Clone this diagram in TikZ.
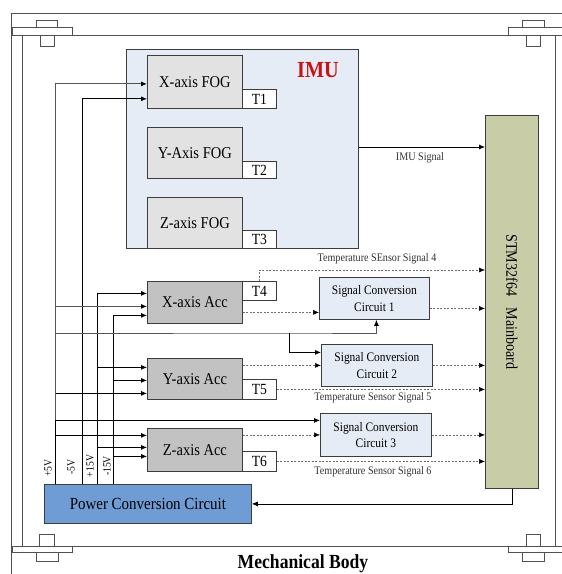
\documentclass[tikz,border=0pt]{standalone}
\usepackage{fontspec}
\setmainfont{Liberation Serif}[FakeStretch=0.88]
\usetikzlibrary{arrows.meta,calc}
\definecolor{framec}{RGB}{80,80,80}
\definecolor{boxc}{RGB}{60,60,60}
\definecolor{imubg}{RGB}{230,236,246}
\definecolor{fogc}{RGB}{226,226,226}
\definecolor{accc}{RGB}{194,194,194}
\definecolor{mainc}{RGB}{200,205,168}
\definecolor{powc}{RGB}{112,156,214}
\definecolor{imured}{RGB}{200,20,20}
\definecolor{pgray}{RGB}{85,85,85}
\definecolor{dgray}{RGB}{110,110,110}
\definecolor{lblc}{RGB}{50,50,50}
\begin{document}
\begin{tikzpicture}[x=1pt,y=-1pt,
  frame/.style={draw=framec, line width=0.8pt},
  box/.style={draw=boxc, line width=0.8pt, inner sep=0pt, anchor=north west, align=center},
  sens/.style={box, fill=fogc, font=\fontsize{16.5}{18}\selectfont},
  accbox/.style={box, fill=accc, font=\fontsize{16.5}{18}\selectfont},
  tbox/.style={box, fill=white, font=\fontsize{15.5}{16}\selectfont},
  sccbox/.style={box, fill=imubg, font=\fontsize{13}{16.5}\selectfont},
  arr/.style={-{Latex[length=6pt,width=5pt]}, line width=0.75pt, draw=black},
  pfive/.style={-{Latex[length=6pt,width=5pt,color=black]}, line width=0.9pt, draw=pgray},
  dsh/.style={-{Latex[length=6pt,width=5pt,color=black]}, draw=dgray, line width=0.5pt, dash pattern=on 2pt off 1.5pt},
  lbl/.style={font=\fontsize{11.5}{12}\selectfont, text=lblc, inner sep=0pt},
  vlab/.style={font=\fontsize{11}{12}\selectfont, rotate=90, inner sep=0pt}
]
\useasboundingbox (0,0) rectangle (562,574);
% mechanical body frame
\draw[frame] (11,580) -- (11,13) -- (566,13);
\draw[frame] (11,35) -- (566,35);
\draw[frame] (11,546) -- (566,546);
\draw[frame] (22.5,35) -- (22.5,546);
\draw[frame] (555.5,35) -- (555.5,546);
\draw[frame, fill=white] (12,27) rectangle (72,35);
\draw[frame, fill=white] (36,20) rectangle (57,27);
\draw[frame, fill=white] (40,35) rectangle (54,46);
\draw[frame, fill=white] (508,27) rectangle (566,35);
\draw[frame, fill=white] (522,20) rectangle (544,27);
\draw[frame, fill=white] (526,35) rectangle (540,46);
\draw[frame, fill=white] (12,546) rectangle (72,552);
\draw[frame, fill=white] (39,534) rectangle (54,546);
\draw[frame, fill=white] (36,552) rectangle (58,561);
\draw[frame, fill=white] (508,546) rectangle (566,552);
\draw[frame, fill=white] (526,534) rectangle (540,546);
\draw[frame, fill=white] (522,552) rectangle (544,561);
\node[font=\bfseries\fontsize{20}{20}\selectfont] (mb) at (303,564) {Mechanical Body};

% IMU
\node[box, fill=imubg, minimum width=232pt, minimum height=199pt] (imu) at (126,49) {};
\node[font=\bfseries\fontsize{23}{23}\selectfont, text=imured] (imutitle) at (318,70) {IMU};
\node[sens, minimum width=95pt, minimum height=53pt] (xfog) at (147,55) {X-axis FOG};
\node[tbox, minimum width=34pt, minimum height=19pt] (t1) at (242,89) {T1};
\node[sens, minimum width=95pt, minimum height=51pt] (yfog) at (147,127) {Y-Axis FOG};
\node[tbox, minimum width=34pt, minimum height=17pt] (t2) at (242,161) {T2};
\node[sens, minimum width=95pt, minimum height=51pt] (zfog) at (147,197) {Z-axis FOG};
\node[tbox, minimum width=34pt, minimum height=18pt] (t3) at (242,230) {T3};

% accelerometers
\node[accbox, minimum width=95pt, minimum height=42pt] (xacc) at (147,281) {X-axis Acc};
\node[tbox, minimum width=34pt, minimum height=19pt] (t4) at (242,281) {T4};
\node[accbox, minimum width=95pt, minimum height=41pt] (yacc) at (147,358) {Y-axis Acc};
\node[tbox, minimum width=34pt, minimum height=20pt] (t5) at (242,379) {T5};
\node[accbox, minimum width=95pt, minimum height=43pt] (zacc) at (147,428) {Z-axis Acc};
\node[tbox, minimum width=34pt, minimum height=20pt] (t6) at (242,451) {T6};

% signal conversion
\node[sccbox, minimum width=110pt, minimum height=42pt] (scc1) at (319,277) {Signal Conversion\\Circuit 1};
\node[sccbox, minimum width=111pt, minimum height=42pt] (scc2) at (321,344) {Signal Conversion\\Circuit 2};
\node[sccbox, minimum width=111pt, minimum height=43pt] (scc3) at (320,413) {Signal Conversion\\Circuit 3};

% mainboard and power
\node[box, fill=mainc, minimum width=53pt, minimum height=373pt] (main) at (485,115) {};
\node[rotate=-90, font=\fontsize{16}{16}\selectfont, inner sep=0pt] (mainlbl) at (main.center) {STM32f64\hspace{0.7em}Mainboard};
\node[box, fill=powc, minimum width=207pt, minimum height=39pt, font=\fontsize{17}{17}\selectfont] (power) at (44,484) {Power Conversion Circuit};

% power rails
\coordinate (vp5) at ([xshift=11pt]power.north west);
\coordinate (vm5) at ([xshift=38pt]power.north west);
\coordinate (vp15) at ([xshift=53pt]power.north west);
\coordinate (vm15) at ([xshift=69pt]power.north west);
\node[vlab] (lp5) at (48,468) {+5V};
\node[vlab] (lm5) at (71,467) {-5V};
\node[vlab] (lp15) at (90,466) {+15V};
\node[vlab] (lm15) at (107,466) {-15V};

\draw[pfive] (vp5) |- ([yshift=-2pt]xfog.west);
\draw[arr] (vm5) |- ([yshift=10pt]xfog.south west);
\draw[arr] (vp15) |- ([yshift=9pt]xacc.west);
\draw[pfive] (vp5) |- ([yshift=-4pt]xacc.west);
\draw[arr] (vm15) |- ([yshift=-13pt]xacc.west);
\draw[arr] (vp15) |- ([yshift=11.5pt]yacc.west);
\draw[arr] (vm15) |- ([yshift=-1.5pt]yacc.west);
\draw[arr] (vp5) |- ([yshift=-14.5pt]yacc.west);
\draw[arr] (vp5) |- ([yshift=14.5pt]zacc.west);
\draw[arr] (vp15) |- ([yshift=2.5pt]zacc.west);
\draw[arr] (vm15) |- ([yshift=-6.5pt]zacc.west);
\coordinate (j1) at (289,333);
\draw[pfive] (vp5) |- (j1) -| ([xshift=2pt]scc1.south);
\draw[arr] (j1) |- ([yshift=13pt]scc2.west);
\draw[arr] (vp5) |- ([yshift=14.5pt]scc3.west);

% signals
\draw[arr] (imu.east |- 0,147) -- (main.west |- 0,147);
\node[lbl] (limu) at (420,158) {IMU Signal};
\draw[dsh] (t4.north) |- (main.west |- 0,270);
\node[lbl] (lt4) at (377,259) {Temperature SEnsor Signal 4};
\draw[dsh] ([yshift=-10pt]xacc.east) -- ([yshift=-10pt]xacc.east -| scc1.west);
\draw[dsh] ([yshift=-10pt]scc1.east) -- ([yshift=-10pt]scc1.east -| main.west);
\draw[dsh] (yacc.east |- scc2.west) -- (scc2.west);
\draw[dsh] (scc2.east) -- (scc2.east -| main.west);
\draw[dsh] (t5.east) -- (t5.east -| main.west);
\node[lbl] (lt5) at (373,398) {Temperature Sensor Signal 5};
\draw[dsh] (zacc.east |- scc3.west) -- (scc3.west);
\draw[dsh] (scc3.east) -- (scc3.east -| main.west);
\draw[dsh] (t6.east) -- (t6.east -| main.west);
\node[lbl] (lt6) at (373,472) {Temperature Sensor Signal 6};
\draw[arr] (main.south) |- (power.east);
\end{tikzpicture}
\end{document}
